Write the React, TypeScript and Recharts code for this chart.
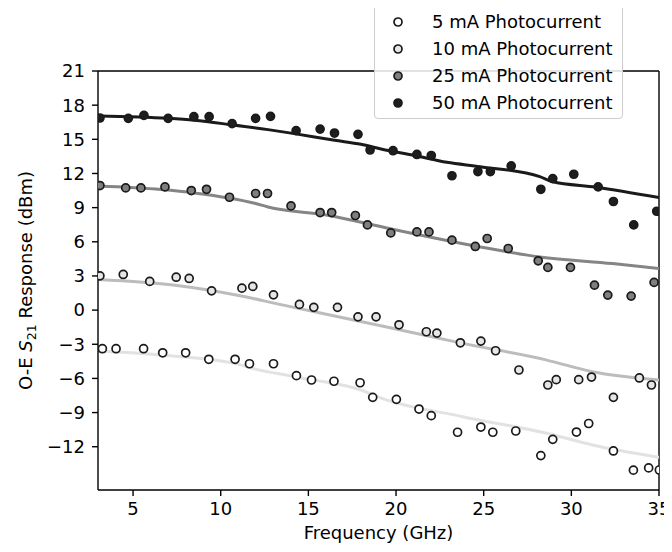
import React from 'react';
import { ComposedChart, Line, Scatter, XAxis, YAxis, ReferenceLine, Legend } from 'recharts';

// ---- measured points ----
const f5 = [3.25, 4.03, 5.6, 6.69, 8.0, 9.32, 10.82, 11.64, 13.01, 14.32, 15.18, 16.46, 17.95, 18.67, 20.02, 21.31, 22.01, 23.51, 24.84, 25.52, 26.83, 28.26, 28.94, 30.29, 30.99, 32.4, 33.54, 34.41, 35.02];
const r5 = [-3.39, -3.39, -3.39, -3.75, -3.75, -4.32, -4.32, -4.71, -4.71, -5.76, -6.14, -6.25, -6.38, -7.66, -7.84, -8.69, -9.27, -10.73, -10.27, -10.73, -10.62, -12.78, -11.35, -10.71, -9.96, -12.37, -14.06, -13.86, -14.04];

const f10 = [3.11, 4.44, 5.95, 7.46, 8.2, 9.48, 11.21, 11.83, 13.01, 14.49, 15.31, 16.66, 17.83, 18.86, 20.17, 21.73, 22.33, 23.67, 24.84, 25.68, 27.01, 28.66, 29.14, 30.42, 31.15, 32.4, 33.88, 34.57];
const r10 = [3.01, 3.13, 2.52, 2.89, 2.78, 1.69, 1.93, 2.08, 1.34, 0.5, 0.24, 0.24, -0.59, -0.59, -1.29, -1.9, -2.02, -2.87, -2.72, -3.57, -5.26, -6.58, -6.11, -6.11, -5.88, -7.66, -5.96, -6.58];

const f25 = [3.11, 4.58, 5.45, 6.82, 8.32, 9.19, 10.5, 11.99, 12.67, 14.01, 15.67, 16.33, 17.68, 18.37, 19.7, 21.19, 21.88, 23.19, 24.52, 25.2, 26.4, 28.11, 28.66, 29.95, 31.32, 32.08, 33.41, 34.72];
const r25 = [10.94, 10.73, 10.73, 10.82, 10.5, 10.61, 9.91, 10.24, 10.24, 9.15, 8.57, 8.57, 8.31, 7.48, 6.78, 6.87, 6.87, 6.14, 5.59, 6.29, 5.41, 4.33, 3.75, 3.75, 2.19, 1.32, 1.23, 2.43];

const f50 = [3.11, 4.73, 5.62, 7.0, 8.47, 9.34, 10.65, 11.99, 12.84, 14.3, 15.67, 16.49, 17.83, 18.52, 19.83, 21.19, 22.01, 23.19, 24.67, 25.38, 26.57, 28.26, 28.94, 30.14, 31.53, 32.4, 33.56, 34.87];
const r50 = [16.87, 16.84, 17.1, 16.84, 16.99, 16.99, 16.38, 16.84, 17.02, 15.76, 15.9, 15.55, 15.44, 14.06, 14.0, 13.67, 13.58, 11.8, 12.17, 12.17, 12.66, 10.61, 11.55, 11.93, 10.82, 9.54, 7.48, 8.68];

// ---- fitted curves ----
const fitF5 = [3, 6.6, 10.8, 11.8, 14.2, 18, 19.2, 23.8, 28.6, 31.2, 35];
const fitR5 = [-3.6, -3.95, -4.68, -5.11, -5.85, -7.02, -7.75, -9.36, -10.82, -11.84, -12.92];
const fitF10 = [3, 7.4, 11.4, 13.1, 19.2, 23.8, 28.6, 31.2, 35];
const fitR10 = [2.69, 2.19, 1.17, 0.59, -1.39, -2.92, -4.39, -5.41, -6.14];
const fitF25 = [3, 6.6, 8.5, 12, 12.7, 16.1, 19.35, 24.8, 28.2, 32.35, 35];
const fitR25 = [10.9, 10.59, 10.29, 9.36, 9.06, 8.33, 7.25, 5.55, 4.67, 4.09, 3.66];
const fitF50 = [3, 7, 8.5, 10.6, 12.7, 14.2, 16.5, 18, 19.2, 21, 22.9, 24.8, 28.2, 28.9, 31.4, 35];
const fitR50 = [17.05, 16.84, 16.67, 16.28, 15.85, 15.5, 14.91, 14.56, 14.12, 13.6, 12.98, 12.6, 11.72, 11.29, 10.79, 9.88];

const xTicks = [5, 10, 15, 20, 25, 30, 35];
const yTicks = [-12, -9, -6, -3, 0, 3, 6, 9, 12, 15, 18, 21];
const seriesNames = ['5 mA Photocurrent', '10 mA Photocurrent', '25 mA Photocurrent', '50 mA Photocurrent'];

const zip = (xs: number[], ys: number[]) => xs.map((x, i) => ({ x, y: ys[i] }));

const FONT = 'DejaVu Sans';
const FS = 18;
const W = 664;
const H = 544;

const markerFill = ['#ffffff', '#e6e6e6', '#7f7f7f', '#1e1e1e'];
const markerEdge = '#1a1a1a';
const lineColor = ['#e2e2e2', '#bcbcbc', '#858585', '#1a1a1a'];

const makeShape = (fill: string) => (props: any) => (
  <circle cx={props.cx} cy={props.cy} r={4} fill={fill} stroke={markerEdge} strokeWidth={1.7} />
);

const minusFmt = (v: number) => String(v).replace('-', '\u2212');

const LegendBox = () => (
  <div
    style={{
      width: 249,
      height: 115,
      boxSizing: 'border-box',
      border: '1px solid #cccccc',
      borderRadius: 4,
      background: 'rgba(255,255,255,0.85)',
      paddingTop: 3,
      fontFamily: FONT,
      fontSize: FS,
      color: '#000',
    }}
  >
    {seriesNames.map((n, i) => (
      <div key={n} style={{ display: 'flex', alignItems: 'center', height: 27 }}>
        <svg width={12} height={12} style={{ marginLeft: 17, marginRight: 28 }}>
          <circle cx={6} cy={6} r={4} fill={markerFill[i]} stroke={markerEdge} strokeWidth={1.7} />
        </svg>
        <span style={{ whiteSpace: 'nowrap' }}>{n}</span>
      </div>
    ))}
  </div>
);

const YLabel = (props: any) => {
  const vb = props.viewBox || {};
  const cy = vb.y + vb.height / 2;
  const x = 24;
  return (
    <text
      x={x}
      y={cy}
      transform={`rotate(-90, ${x}, ${cy})`}
      textAnchor="middle"
      fontFamily={FONT}
      fontSize={FS}
      fill="#000"
    >
      <tspan>O-E </tspan>
      <tspan fontStyle="italic">S</tspan>
      <tspan fontSize={FS * 0.7} dy={4}>21</tspan>
      <tspan dy={-4}> Response (dBm)</tspan>
    </text>
  );
};

const XLabel = (props: any) => {
  const vb = props.viewBox || {};
  return (
    <text
      x={vb.x + vb.width / 2}
      y={vb.y + 49}
      textAnchor="middle"
      fontFamily={FONT}
      fontSize={FS}
      fill="#000"
    >
      Frequency (GHz)
    </text>
  );
};

export default function App() {
  const tickStyle = { fill: '#000', fontSize: FS, fontFamily: FONT };
  const fits = [zip(fitF5, fitR5), zip(fitF10, fitR10), zip(fitF25, fitR25), zip(fitF50, fitR50)];
  const pts = [zip(f5, r5), zip(f10, r10), zip(f25, r25), zip(f50, r50)];
  return (
    <div style={{ position: 'relative', width: W, height: H }}>
      <ComposedChart width={W} height={H} margin={{ top: 63, right: 13, bottom: 12, left: 10 }}>
        <XAxis
          type="number"
          dataKey="x"
          domain={[3, 35]}
          allowDataOverflow
          ticks={xTicks}
          height={50}
          tickSize={6}
          tickMargin={6}
          stroke="#000"
          strokeWidth={1.4}
          tick={tickStyle}
          label={<XLabel />}
        />
        <YAxis
          type="number"
          dataKey="y"
          domain={[-15.8, 21]}
          allowDataOverflow
          ticks={yTicks}
          width={80}
          tickSize={6}
          tickMargin={7}
          stroke="#000"
          strokeWidth={1.4}
          tick={tickStyle}
          tickFormatter={minusFmt}
          label={<YLabel />}
        />
        <ReferenceLine y={21} stroke="#000" strokeWidth={1.4} />
        <ReferenceLine x={35} stroke="#000" strokeWidth={1.4} />
        {fits.map((d, i) => (
          <Line
            key={'fit' + i}
            data={d}
            dataKey="y"
            type="monotone"
            stroke={lineColor[i]}
            strokeWidth={3}
            dot={false}
            activeDot={false}
            legendType="none"
            isAnimationActive={false}
          />
        ))}
        {pts.map((d, i) => (
          <Scatter
            key={'pts' + i}
            name={seriesNames[i]}
            data={d}
            dataKey="y"
            fill={markerFill[i]}
            shape={makeShape(markerFill[i])}
            isAnimationActive={false}
          />
        ))}
        <Legend
          layout="vertical"
          align="center"
          verticalAlign="middle"
          content={<LegendBox />}
          wrapperStyle={{ position: 'absolute', left: 366, top: -4, width: 249, height: 115 }}
        />
      </ComposedChart>
      <div
        style={{
          position: 'absolute',
          left: 661,
          top: 244,
          width: 3,
          height: 120,
          boxSizing: 'border-box',
          borderLeft: '1px solid #cccccc',
          borderTop: '1px solid #cccccc',
          borderBottom: '1px solid #cccccc',
          borderTopLeftRadius: 4,
          borderBottomLeftRadius: 4,
        }}
      />
    </div>
  );
}
